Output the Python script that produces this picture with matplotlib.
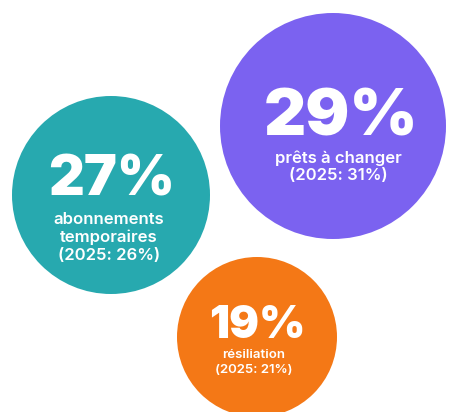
import matplotlib
matplotlib.use("Agg")
import matplotlib.pyplot as plt
from matplotlib.patches import Circle

# Data
categories = ["abonnements\ntemporaires", "prêts à changer", "résiliation"]
values = [27, 29, 19]
prev_values = [26, 31, 21]
prev_year = "2025"

# Layout (pixel coordinates, origin top-left) and styles
centers = [(111, 195), (333, 126), (257, 337)]
radii = [99, 113, 80]
colors = ["#27A9AF", "#7B62F0", "#F47816"]
big_x = [112, 341, 257]
big_base = [195, 135, 338]
big_sizes = [40, 47, 32]
lab_x = [109, 338, 254]
lab_base = [224, 163, 358]
line_h = [18, 17, 15]
small_sizes = [12, 12, 9.5]
FAM = ["Inter", "DejaVu Sans"]

W, H = 449, 412
fig = plt.figure(figsize=(W / 100, H / 100), dpi=100)
ax = fig.add_axes([0, 0, 1, 1])
ax.set_xlim(0, W)
ax.set_ylim(H, 0)
ax.set_aspect("equal")
ax.axis("off")

for i, (cat, v, pv) in enumerate(zip(categories, values, prev_values)):
    cx, cy = centers[i]
    ax.add_patch(Circle((cx, cy), radii[i], color=colors[i], lw=0))
    ax.text(big_x[i], big_base[i], f"{v}%", ha="center", va="baseline",
            color="white", fontsize=big_sizes[i], fontweight=900, family=FAM)
    lines = cat.split("\n") + [f"({prev_year}: {pv}%)"]
    for j, ln in enumerate(lines):
        ax.text(lab_x[i], lab_base[i] + j * line_h[i], ln, ha="center",
                va="baseline", color="white", fontsize=small_sizes[i],
                fontweight=600, family=FAM)

fig.savefig("out.png", dpi=100)
